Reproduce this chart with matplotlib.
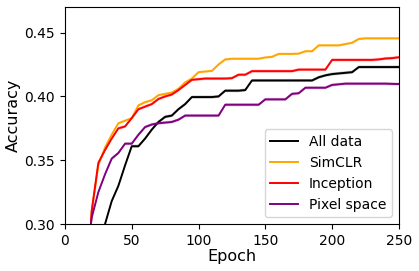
import matplotlib
matplotlib.use("Agg")
import matplotlib.pyplot as plt
import numpy as np

epochs = np.arange(10, 255, 5)

all_data = [0.20, 0.22, 0.25, 0.28, 0.300, 0.318, 0.330, 0.346, 0.361, 0.361,
            0.367, 0.374, 0.380, 0.384, 0.385, 0.390, 0.394, 0.3995, 0.3995, 0.3995,
            0.3995, 0.400, 0.4045, 0.4045, 0.4045, 0.405, 0.4125, 0.4125, 0.4125, 0.4125,
            0.4125, 0.4125, 0.4125, 0.4125, 0.4125, 0.4125, 0.415, 0.4165, 0.4175, 0.418,
            0.4185, 0.419, 0.423, 0.423, 0.423, 0.423, 0.423, 0.423, 0.423]
simclr = [0.15, 0.22, 0.31, 0.346, 0.360, 0.370, 0.379, 0.381, 0.383, 0.393,
          0.3955, 0.397, 0.401, 0.402, 0.403, 0.406, 0.411, 0.414, 0.419, 0.4195,
          0.420, 0.425, 0.429, 0.4295, 0.4295, 0.4295, 0.4295, 0.4295, 0.4305, 0.431,
          0.4333, 0.4333, 0.4333, 0.4335, 0.4354, 0.4354, 0.440, 0.440, 0.440, 0.440,
          0.441, 0.442, 0.445, 0.4455, 0.4455, 0.4455, 0.4455, 0.4455, 0.4455]
inception = [0.15, 0.22, 0.31, 0.348, 0.358, 0.367, 0.375, 0.3765, 0.383, 0.390,
             0.392, 0.394, 0.398, 0.400, 0.4015, 0.405, 0.409, 0.413, 0.4135, 0.414,
             0.414, 0.414, 0.414, 0.4143, 0.417, 0.417, 0.4198, 0.4198, 0.4198, 0.4198,
             0.4198, 0.4198, 0.4198, 0.421, 0.421, 0.421, 0.421, 0.421, 0.4286, 0.4286,
             0.4286, 0.4286, 0.4286, 0.4286, 0.4286, 0.429, 0.4297, 0.430, 0.4307]
pixel = [0.20, 0.26, 0.305, 0.325, 0.339, 0.3513, 0.3557, 0.363, 0.363, 0.370,
         0.376, 0.378, 0.379, 0.3795, 0.380, 0.3818, 0.385, 0.385, 0.385, 0.385,
         0.385, 0.385, 0.3935, 0.3935, 0.3935, 0.3935, 0.3935, 0.3935, 0.3977, 0.3977,
         0.3977, 0.3977, 0.402, 0.4025, 0.4068, 0.4068, 0.4068, 0.4068, 0.409, 0.4095,
         0.410, 0.410, 0.410, 0.410, 0.410, 0.410, 0.410, 0.4098, 0.4097]
stds = [0.0012, 0.0010, 0.0012, 0.0012]

labels = ['All data', 'SimCLR', 'Inception', 'Pixel space']
colors = ['black', 'orange', 'red', 'purple']
series = [all_data, simclr, inception, pixel]

fig = plt.figure(figsize=(4.19, 2.71), dpi=100)
ax = fig.add_axes([0.155, 0.173, 0.797, 0.801])

for y, s, c, lab in zip(series, stds, colors, labels):
    y = np.array(y)
    ax.fill_between(epochs, y - s, y + s, color=c, alpha=0.25, linewidth=0)
    ax.plot(epochs, y, color=c, linewidth=1.4, label=lab)

ax.set_xlim(0, 250)
ax.set_ylim(0.30, 0.47)
ax.set_xticks([0, 50, 100, 150, 200, 250])
ax.set_yticks([0.30, 0.35, 0.40, 0.45])
ax.tick_params(labelsize=10)
ax.set_xlabel('Epoch', fontsize=11.5, labelpad=1)
ax.set_ylabel('Accuracy', fontsize=11.5, labelpad=3)
ax.legend(loc='lower right', fontsize=10)

fig.savefig('out.png', dpi=100)
